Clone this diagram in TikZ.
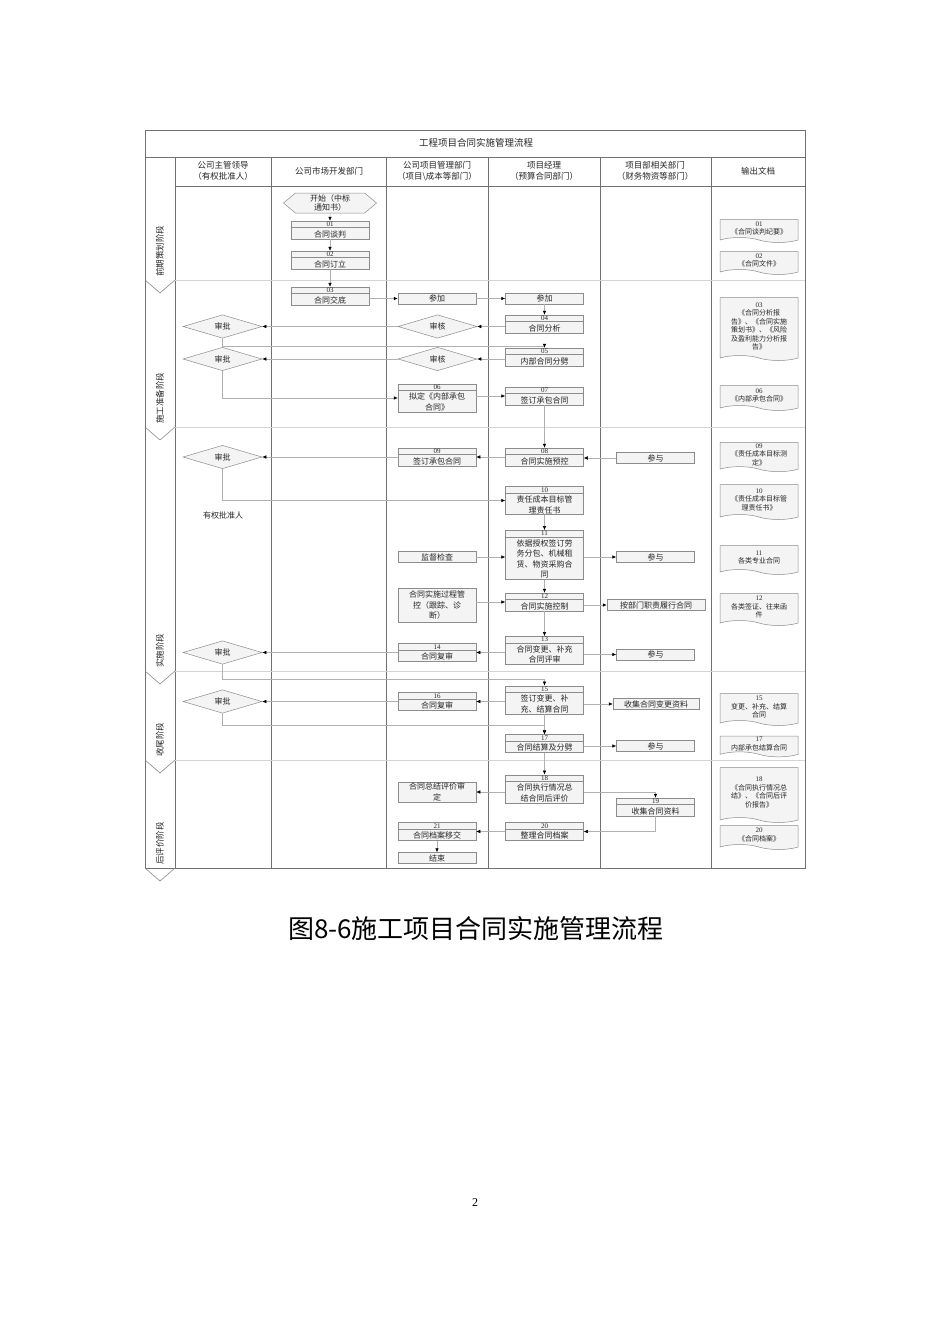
\documentclass[tikz,border=0pt]{standalone}
\usepackage{fontspec}
\setmainfont{Liberation Serif}
\newfontfamily\cjk{Noto Sans CJK SC}
\usetikzlibrary{arrows.meta, shapes.geometric, shapes.symbols}
\definecolor{boxgray}{HTML}{8C8C8C}
\definecolor{boxfill}{HTML}{F4F4F4}
\definecolor{flowgray}{HTML}{B0B0B0}
\definecolor{lanegray}{HTML}{707070}
\definecolor{rowgray}{HTML}{D4D4D4}
\definecolor{txtgray}{HTML}{262626}
\newcommand{\stepno}[1]{{\rmfamily\fontsize{7}{7}\selectfont #1}\\}

\begin{document}
\begin{tikzpicture}[x=1pt, y=-1pt,
    lane/.style={draw=lanegray, line width=0.6pt},
    rowline/.style={draw=rowgray, line width=0.6pt},
    head/.style={font=\cjk\fontsize{8.5}{11}\selectfont, align=center, text=txtgray},
    txt/.style={font=\cjk\fontsize{8}{9}\selectfont, text=txtgray},
    phase/.style={font=\cjk\fontsize{8.5}{9}\selectfont, rotate=90, anchor=west, text=txtgray, inner sep=0pt},
    stepbox/.style={draw=boxgray, fill=boxfill, line width=0.5pt, minimum width=78pt, minimum height=11pt, inner sep=1pt, align=center, font=\cjk\fontsize{8}{10.5}\selectfont, text=txtgray},
    numbox/.style={stepbox, path picture={\draw[boxgray, line width=0.4pt] ([yshift=-6.5pt]path picture bounding box.north west) -- ([yshift=-6.5pt]path picture bounding box.north east);}},
    check/.style={diamond, draw=boxgray, fill=boxfill, line width=0.5pt, minimum width=79pt, minimum height=17pt, inner sep=0pt, font=\cjk\fontsize{8}{9}\selectfont, text=txtgray},
    startbox/.style={signal, signal to=west and east, signal pointer angle=80, draw=boxgray, fill=boxfill, line width=0.5pt, minimum width=93pt, minimum height=20pt, inner sep=0pt, align=center, font=\cjk\fontsize{8}{9.5}\selectfont, text=txtgray},
    doc/.style={tape, tape bend top=none, tape bend bottom=out and in, tape bend height=5pt, draw=boxgray, fill=boxfill, line width=0.5pt, minimum width=78pt, inner sep=1pt, align=center, font=\cjk\fontsize{7}{8.5}\selectfont, text=txtgray},
    flow/.style={draw=flowgray, line width=0.5pt, -{Latex[length=4pt, width=3.5pt, color=black]}}
]
    \fill[white] (0,0) rectangle (950,1344);
    \useasboundingbox (0,0) rectangle (950,1344);

    % frame and lanes
    \draw[lane] (145,130) rectangle (805,868);
    \draw[lane] (145,157) -- (805,157);
    \draw[lane] (175,186) -- (805,186);
    \foreach \x in {175, 271, 386, 488, 600, 711}
        \draw[lane] (\x,157) -- (\x,868);
    \foreach \y in {280, 427, 671, 760}
        \draw[rowline] (175,\y) -- (805,\y);
    \foreach \y in {280, 427, 671, 760, 868}
        \draw[draw=boxgray, line width=0.6pt] (145,\y) -- (160,\y+13) -- (175,\y);

    \node[head, font=\cjk\fontsize{9.5}{11}\selectfont] (title) at (476,143) {工程项目合同实施管理流程};
    \node[head] (h1) at (223,171) {公司主管领导\\（有权批准人）};
    \node[head] (h2) at (329,171) {公司市场开发部门};
    \node[head] (h3) at (437,171) {公司项目管理部门\\（项目{\textbackslash}成本等部门）};
    \node[head] (h4) at (544,171) {项目经理\\（预算合同部门）};
    \node[head] (h5) at (655,171) {项目部相关部门\\（财务物资等部门）};
    \node[head] (h6) at (758,171) {输出文档};

    \node[phase] (ph1) at (160,277) {前期策划阶段};
    \node[phase] (ph2) at (160,424) {施工准备阶段};
    \node[phase] (ph3) at (160,668) {实施阶段};
    \node[phase] (ph4) at (160,757) {收尾阶段};
    \node[phase] (ph5) at (160,865) {后评价阶段};

    % steps
    \node[startbox] (start) at (330,203) {开始（中标\\通知书）};
    \node[numbox] (n01) at (330,230) {\stepno{01}合同谈判};
    \node[numbox] (n02) at (330,260) {\stepno{02}合同订立};
    \node[numbox] (n03) at (330,296) {\stepno{03}合同交底};
    \node[stepbox] (canjia1) at (437,298.5) {参加};
    \node[stepbox] (canjia2) at (544.5,298.5) {参加};
    \node[numbox] (n04) at (544.5,324) {\stepno{04}合同分析};
    \node[check] (shenhe1) at (437.5,326.5) {审核};
    \node[check] (shenpi1) at (222.5,326.5) {审批};
    \node[numbox] (n05) at (544.5,357) {\stepno{05}内部合同分劈};
    \node[check] (shenhe2) at (437.5,359) {审核};
    \node[check] (shenpi2) at (222.5,359) {审批};
    \node[numbox] (n06) at (437,398) {\stepno{06}拟定《内部承包\\合同》};
    \node[numbox] (n07) at (544.5,396) {\stepno{07}签订承包合同};

    \node[numbox] (n08) at (544.5,457) {\stepno{08}合同实施预控};
    \node[numbox] (n09) at (437,457) {\stepno{09}签订承包合同};
    \node[stepbox] (canyu1) at (655.5,458) {参与};
    \node[check] (shenpi3) at (222.5,457) {审批};
    \node[txt] (pizhun) at (223,515) {有权批准人};
    \node[numbox] (n10) at (544.5,500.5) {\stepno{10}责任成本目标管\\理责任书};
    \node[numbox] (n11) at (544.5,555) {\stepno{11}依据授权签订劳\\务分包、机械租\\赁、物资采购合\\同};
    \node[stepbox] (jiandu) at (437,557) {监督检查};
    \node[stepbox] (canyu2) at (655.5,557) {参与};
    \node[numbox] (n12) at (544.5,602) {\stepno{12}合同实施控制};
    \node[stepbox, minimum height=34pt] (guokong) at (437,605) {合同实施过程管\\控（跟踪、诊\\断）};
    \node[stepbox, minimum width=98pt] (lvxing) at (656,605) {按部门职责履行合同};
    \node[numbox] (n13) at (544.5,650.5) {\stepno{13}合同变更、补充\\合同评审};
    \node[numbox] (n14) at (437,652.5) {\stepno{14}合同复审};
    \node[stepbox] (canyu3) at (655.5,654.5) {参与};
    \node[check] (shenpi4) at (222.5,652.5) {审批};

    \node[numbox] (n15) at (544.5,700) {\stepno{15}签订变更、补\\充、结算合同};
    \node[numbox] (n16) at (437,701.5) {\stepno{16}合同复审};
    \node[check] (shenpi5) at (222.5,701.5) {审批};
    \node[stepbox, minimum width=86pt] (shouji) at (656,704) {收集合同变更资料};
    \node[numbox] (n17) at (544.5,743.5) {\stepno{17}合同结算及分劈};
    \node[stepbox] (canyu4) at (655.5,746) {参与};

    \node[numbox] (n18) at (544.5,789) {\stepno{18}合同执行情况总\\结合同后评价};
    \node[stepbox] (shending) at (437,792) {合同总结评价审\\定};
    \node[numbox] (n19) at (655.5,807) {\stepno{19}收集合同资料};
    \node[numbox] (n20) at (544.5,831.5) {\stepno{20}整理合同档案};
    \node[numbox] (n21) at (437,831.5) {\stepno{21}合同档案移交};
    \node[stepbox] (jieshu) at (437,858) {结束};

    % output documents
    \node[doc, minimum height=23pt] (d01) at (759,228.5) {\stepno{01}《合同谈判纪要》};
    \node[doc, minimum height=23pt] (d02) at (759,260.5) {\stepno{02}《合同文件》};
    \node[doc, minimum height=63pt] (d03) at (759,326.5) {\stepno{03}《合同分析报\\告》、《合同实施\\策划书》、《风险\\及盈利能力分析报\\告》};
    \node[doc, minimum height=25pt] (d06) at (759,395.5) {\stepno{06}《内部承包合同》};
    \node[doc, minimum height=25pt] (d09) at (759,454.5) {\stepno{09}《责任成本目标测\\定》};
    \node[doc, minimum height=35pt] (d10) at (759,499.5) {\stepno{10}《责任成本目标管\\理责任书》};
    \node[doc, minimum height=29pt] (d11) at (759,557.5) {\stepno{11}各类专业合同};
    \node[doc, minimum height=32pt] (d12) at (759,607) {\stepno{12}各类签证、往来函\\件};
    \node[doc, minimum height=32pt] (d15) at (759,707) {\stepno{15}变更、补充、结算\\合同};
    \node[doc, minimum height=18pt] (d17) at (759,744) {\stepno{17}内部承包结算合同};
    \node[doc, minimum height=55pt] (d18) at (759,792.5) {\stepno{18}《合同执行情况总\\结》、《合同后评\\价报告》};
    \node[doc, minimum height=24pt] (d20) at (759,835) {\stepno{20}《合同档案》};

    % connectors
    \draw[flow] (start) -- (n01);
    \draw[flow] (n01) -- (n02);
    \draw[flow] (n02) -- (n03);
    \draw[flow] (n03.east |- canjia1) -- (canjia1);
    \draw[flow] (canjia1) -- (canjia2);
    \draw[flow] (canjia2) -- (n04);
    \draw[flow] (n04.west |- shenhe1) -- (shenhe1);
    \draw[flow] (shenhe1) -- (shenpi1);
    \draw[flow] (shenpi1.south) -- ++(0,8) -| (n05.north);
    \draw[flow] (n05.west |- shenhe2) -- (shenhe2);
    \draw[flow] (shenhe2) -- (shenpi2);
    \draw[flow] (shenpi2.south) |- (n06);
    \draw[flow] (n06.east |- n07) -- (n07);
    \draw[flow] (n07) -- (n08);
    \draw[flow] (canyu1) -- (n08.east |- canyu1);
    \draw[flow] (n08.west |- n09) -- (n09);
    \draw[flow] (n09) -- (shenpi3);
    \draw[flow] (shenpi3.south) |- (n10);
    \draw[flow] (n10) -- (n11);
    \draw[flow] (jiandu) -- (n11.west |- jiandu);
    \draw[flow] (n11.east |- canyu2) -- (canyu2);
    \draw[flow] (n11) -- (n12);
    \draw[flow] (guokong.east |- n12) -- (n12);
    \draw[flow] (n12.east |- lvxing) -- (lvxing);
    \draw[flow] (n12) -- (n13);
    \draw[flow] (n13.west |- n14) -- (n14);
    \draw[flow] (n13.east |- canyu3) -- (canyu3);
    \draw[flow] (n14) -- (shenpi4);
    \draw[flow] (shenpi4.south) -- ++(0,15) -| (n15.north);
    \draw[flow] (n15.west |- n16) -- (n16);
    \draw[flow] (n16) -- (shenpi5);
    \draw[flow] (shenpi5.south) -- ++(0,12) -| (n17.north);
    \draw[flow] (n15.east |- shouji) -- (shouji);
    \draw[flow] (n15) -- (n17);
    \draw[flow] (n17.east |- canyu4) -- (canyu4);
    \draw[flow] (n17) -- (n18);
    \draw[flow] (n18.west |- shending) -- (shending);
    \draw[flow] (n18.east |- shending) -| (n19.north);
    \draw[flow] (n19.south) |- (n20);
    \draw[flow] (n20) -- (n21);
    \draw[flow] (n21) -- (jieshu);

    \node[font=\cjk\fontsize{26}{30}\selectfont] (caption) at (476,929) {图8-6施工项目合同实施管理流程};
    \node[font=\fontsize{12}{14}\selectfont] (pageno) at (475,1203) {2};
\end{tikzpicture}
\end{document}
